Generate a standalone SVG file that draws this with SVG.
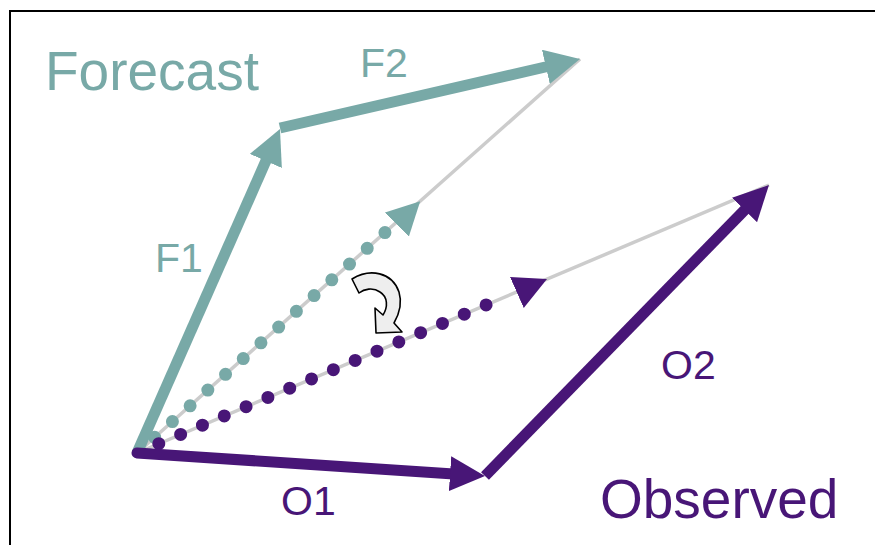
<svg xmlns="http://www.w3.org/2000/svg" width="875" height="545" viewBox="0 0 875 545">
  <style>
    .lbl { font-family: "Liberation Sans", Arial, sans-serif; }
    .teal { fill: #78A9A7; }
    .purple { fill: #481677; }
    .guide { stroke: #CCCCCC; stroke-width: 3.5; fill: none; }
    .main { fill: none; stroke-width: 11; stroke-linecap: butt; }
    .round { stroke-linecap: round; }
    .dots { fill: none; stroke-width: 13; stroke-linecap: round; stroke-dasharray: 0 23.7; }
    .ghost { stroke: none; fill: none; }
  </style>
  <defs>
    <marker id="headTeal" markerUnits="userSpaceOnUse" markerWidth="40" markerHeight="40" refX="15" refY="17.5" orient="auto">
      <path d="M0,0 L35,17.5 L0,35 Z" fill="#78A9A7"/>
    </marker>
    <marker id="headPurple" markerUnits="userSpaceOnUse" markerWidth="40" markerHeight="40" refX="15" refY="17.5" orient="auto">
      <path d="M0,0 L35,17.5 L0,35 Z" fill="#481677"/>
    </marker>
    <marker id="tipTeal" markerUnits="userSpaceOnUse" markerWidth="40" markerHeight="40" refX="33" refY="17" orient="auto">
      <path d="M0,0 L33,17 L0,34 Z" fill="#78A9A7"/>
    </marker>
    <marker id="tipPurple" markerUnits="userSpaceOnUse" markerWidth="40" markerHeight="40" refX="33" refY="17" orient="auto">
      <path d="M0,0 L33,17 L0,34 Z" fill="#481677"/>
    </marker>
  </defs>

  <rect x="10" y="11" width="900" height="600" fill="#FFFFFF" stroke="#000000" stroke-width="2"/>

  <g id="connectors">
    <!-- guide lines of the resultants -->
    <path class="guide" d="M137,453 L580,59"/>
    <path class="guide" d="M137,453 L769,185"/>
    <!-- dotted resultants -->
    <path class="dots" stroke="#78A9A7" d="M154.7,437.3 L385.0,232.5"/>
    <path class="ghost" d="M419.5,201.9 L420.2,201.2" marker-end="url(#tipTeal)"/>
    <path class="dots" stroke="#481677" d="M158.8,443.7 L507.9,295.7"/>
    <path class="ghost" d="M546.1,279.5 L547,279.1" marker-end="url(#tipPurple)"/>
    <!-- forecast vectors -->
    <path id="F1" class="main" stroke="#78A9A7" d="M137,453 L271.9,147.3" marker-end="url(#headTeal)"/>
    <path id="F2" class="main" stroke="#78A9A7" d="M280,128 L560.5,63.5" marker-end="url(#headTeal)"/>
    <!-- observed vectors -->
    <path id="O2" class="main" stroke="#481677" d="M485,476 L755,199.3" marker-end="url(#headPurple)"/>
    <path id="O1" class="main round" stroke="#481677" d="M137,453 L465,474.7" marker-end="url(#headPurple)"/>
  </g>

  <g id="rotation">
    <path d="M352,279 C370,268 392,272 399,292 C403,305 398,316 394,323 L402,332 L376,333 L375,308 L383,315 C388,307 388,297 380,292 C373,287 364,289 359,293 Z" fill="#EEEEEE" stroke="#000000" stroke-width="1.6" stroke-linejoin="round"/>
  </g>

  <g id="forecast-label"><text class="lbl teal" x="45" y="90" font-size="55">Forecast</text></g>
  <g id="observed-label"><text class="lbl purple" x="600" y="518" font-size="55">Observed</text></g>
  <g id="F1-label"><text class="lbl teal" x="155" y="272" font-size="41">F1</text></g>
  <g id="F2-label"><text class="lbl teal" x="360" y="77" font-size="41">F2</text></g>
  <g id="O1-label"><text class="lbl purple" x="281" y="515" font-size="41">O1</text></g>
  <g id="O2-label"><text class="lbl purple" x="661" y="379" font-size="41">O2</text></g>
</svg>
